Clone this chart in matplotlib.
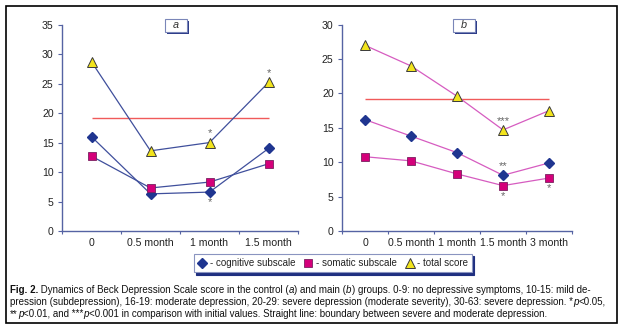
import matplotlib
matplotlib.use("Agg")
import matplotlib.pyplot as plt
from matplotlib.patches import Rectangle
from matplotlib.lines import Line2D
import numpy as np

# ---------------- data ----------------
cats_a = ["0", "0.5 month", "1 month", "1.5 month"]
cognitive_a = [16.0, 6.3, 6.6, 14.0]
somatic_a = [12.7, 7.3, 8.3, 11.4]
total_a = [28.7, 13.6, 15.0, 25.2]
boundary_a = 19.1

cats_b = ["0", "0.5 month", "1 month", "1.5 month", "3 month"]
cognitive_b = [16.2, 13.8, 11.4, 8.1, 9.9]
somatic_b = [10.8, 10.2, 8.3, 6.6, 7.7]
total_b = [27.0, 24.0, 19.6, 14.7, 17.5]
boundary_b = 19.2

# significance marks: (series, index, text, above?)
sig_a = [("total", 2, "*", True), ("cognitive", 2, "*", False), ("total", 3, "*", True)]
sig_b = [("total", 3, "***", True), ("cognitive", 3, "**", True),
         ("somatic", 3, "*", False), ("somatic", 4, "*", False)]

yticks_a = [0, 5, 10, 15, 20, 25, 30, 35]
yticks_b = [0, 5, 10, 15, 20, 25, 30]

legend_labels = ["- cognitive subscale", "- somatic subscale", "- total score"]

# ---------------- style ----------------
W, H = 624, 329
FONT = "Liberation Sans"
TICK_FONT = ["Liberation Sans Narrow", "Liberation Sans", "DejaVu Sans"]
plt.rcParams["font.family"] = [FONT, "DejaVu Sans"]
AX_COL = "#5563a3"
DIA_COL = "#1f3590"
SQ_COL = "#d4007a"
TRI_COL = "#f2e41c"
TRI_EDGE = "#3a3a3a"
RED = "#f05a5a"
LINE_A = "#3f4f9c"
LINE_B = "#d65cc0"
STAR_COL = "#666666"

fig = plt.figure(figsize=(W / 100, H / 100), dpi=100)
fig.patch.set_facecolor("white")


def fx(px):
    return px / W


def fy(py):
    return 1 - py / H


def make_panel(left, right, top_px, bottom_px, cats, cog, som, tot, boundary,
               ymax, yticks, line_col, sigs):
    ax = fig.add_axes([fx(left), fy(bottom_px), fx(right - left), (bottom_px - top_px) / H])
    n = len(cats)
    x = np.arange(n)
    ax.set_xlim(-0.5, n - 0.5)
    ax.set_ylim(0, ymax)
    series = {"cognitive": cog, "somatic": som, "total": tot}
    ax.hlines(boundary, 0, n - 1, color=RED, lw=1.0, zorder=2)
    ax.plot(x, cog, color=line_col, lw=0.9, marker="D", ms=5.0, mfc=DIA_COL,
            mec=DIA_COL, zorder=3)
    ax.plot(x, som, color=line_col, lw=0.9, marker="s", ms=5.8, mfc=SQ_COL,
            mec="#7a2060", mew=0.6, zorder=3)
    ax.plot(x, tot, color=line_col, lw=0.9, marker="^", ms=7.0, mfc=TRI_COL,
            mec=TRI_EDGE, mew=0.7, zorder=3)
    for key, i, txt, above in sigs:
        ax.annotate(txt, (x[i], series[key][i]), xytext=(0, 6.5 if above else -7.5),
                    textcoords="offset points", ha="center",
                    va="center", fontsize=8, color=STAR_COL, zorder=4)
    for s in ("top", "right"):
        ax.spines[s].set_visible(False)
    for s in ("left", "bottom"):
        ax.spines[s].set_color(AX_COL)
        ax.spines[s].set_linewidth(1.0)
    ax.set_yticks(yticks)
    ax.set_yticklabels([str(t) for t in yticks], family=TICK_FONT)
    ax.set_xticks(x)
    ax.set_xticklabels(cats, family=TICK_FONT)
    ax.set_xticks(np.arange(n + 1) - 0.5, minor=True)
    ax.tick_params(axis="y", direction="out", length=3, width=0.8, color=AX_COL,
                   labelsize=7.6, pad=3, labelcolor="#222222")
    ax.tick_params(axis="x", which="major", length=0, labelsize=7.6, pad=5,
                   labelcolor="#222222")
    ax.tick_params(axis="x", which="minor", direction="out", length=2.5,
                   width=0.8, color=AX_COL)
    ax.patch.set_alpha(0)
    return ax


ax_a = make_panel(62, 298, 24.7, 231, cats_a, cognitive_a, somatic_a, total_a,
                  boundary_a, 35, yticks_a, LINE_A, sig_a)
ax_b = make_panel(342, 572, 24.7, 231, cats_b, cognitive_b, somatic_b, total_b,
                  boundary_b, 30, yticks_b, LINE_B, sig_b)


def label_box(cx, cy, w, h, txt):
    x0, y0 = cx - w / 2, cy + h / 2
    sh = Rectangle((fx(x0 + 1.5), fy(y0 + 1.5)), fx(w), h / H, transform=fig.transFigure,
                   fc="#2b3a88", ec="none", zorder=5)
    bx = Rectangle((fx(x0), fy(y0)), fx(w), h / H, transform=fig.transFigure,
                   fc="white", ec="#7a86b8", lw=0.8, zorder=6)
    fig.patches.extend([sh, bx])
    fig.text(fx(cx), fy(cy), txt, ha="center", va="center", fontsize=7.8,
             style="italic", color="#333333", zorder=7)


label_box(176, 25.5, 22, 13, "a")
label_box(464, 25.5, 22, 13, "b")

# ---------------- legend ----------------
handles = [
    Line2D([], [], ls="none", marker="D", ms=5, mfc=DIA_COL, mec=DIA_COL),
    Line2D([], [], ls="none", marker="s", ms=6, mfc=SQ_COL, mec="#7a2060", mew=0.6),
    Line2D([], [], ls="none", marker="^", ms=7, mfc=TRI_COL, mec=TRI_EDGE, mew=0.7),
]
leg = fig.legend(handles, legend_labels, loc="center", bbox_to_anchor=(fx(333), fy(263)),
                 ncol=3, fontsize=7, frameon=True, fancybox=False,
                 handlelength=0.9, handletextpad=0.3, columnspacing=0.9,
                 borderpad=0.45,
                 shadow={"color": "#1f2f80", "alpha": 1.0, "ox": 1.5, "oy": -2.0})
leg.get_frame().set_edgecolor("#8a94c0")
leg.get_frame().set_linewidth(0.8)
for t in leg.get_texts():
    t.set_color("#222222")

# ---------------- caption ----------------
renderer = fig.canvas.get_renderer()


def rich_line(x_px, y_px, pieces, size=7.0):
    xf = fx(x_px)
    for txt, style in pieces:
        kw = dict(fontsize=size, color="#111111", va="center", ha="left")
        if style == "b":
            kw["weight"] = "bold"
        elif style == "i":
            kw["style"] = "italic"
        t = fig.text(xf, fy(y_px), txt, **kw)
        bb = t.get_window_extent(renderer=renderer)
        xf = bb.x1 / fig.bbox.width


rich_line(10, 290, [("Fig. 2.", "b"),
                    (" Dynamics of Beck Depression Scale score in the control (", ""),
                    ("a", "i"), (") and main (", ""), ("b", "i"),
                    (") groups. 0-9: no depressive symptoms, 10-15: mild de-", "")])
rich_line(10, 302, [("pression (subdepression), 16-19: moderate depression, 20-29: severe depression "
                     "(moderate severity), 30-63: severe depression. *", ""),
                    ("p", "i"), ("<0.05,", "")])
rich_line(10, 314, [("**", ""), ("p", "i"), ("<0.01, and ***", ""), ("p", "i"),
                    ("<0.001 in comparison with initial values. Straight line: boundary between "
                     "severe and moderate depression.", "")])

# outer frame
fig.patches.append(Rectangle((fx(6), fy(323)), fx(611), 317 / H, transform=fig.transFigure,
                             fill=False, ec="black", lw=1.2, zorder=10))

fig.savefig("out.png", dpi=100)
